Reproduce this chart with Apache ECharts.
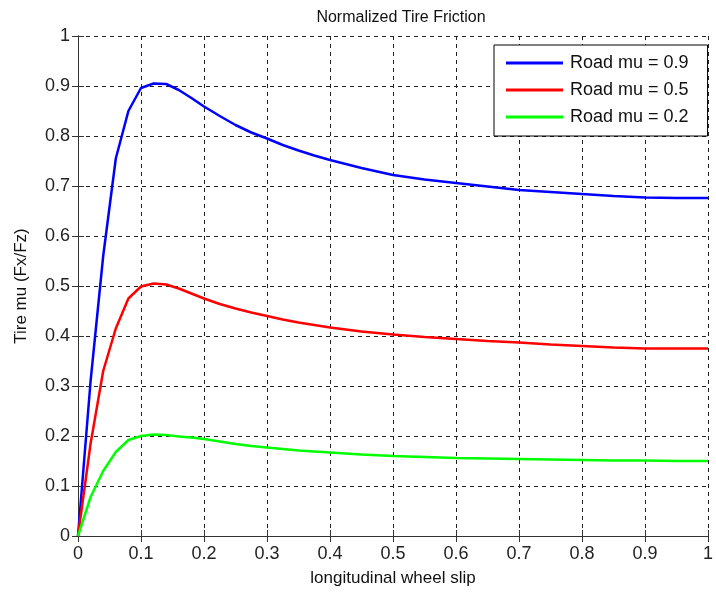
<!DOCTYPE html>
<html>
<head>
<meta charset="utf-8">
<script src="https://cdn.jsdelivr.net/npm/echarts@6/dist/echarts.min.js"></script>
<style>html,body{margin:0;padding:0;background:#fff;}#c{width:716px;height:592px;}</style>
</head>
<body>
<div id="c"></div>
<script>
var slip = [0, 0.02, 0.04, 0.06, 0.08, 0.1, 0.12, 0.14, 0.16, 0.18, 0.2, 0.225, 0.25, 0.275, 0.3, 0.325, 0.35, 0.375, 0.4, 0.45, 0.5, 0.55, 0.6, 0.65, 0.7, 0.75, 0.8, 0.85, 0.9, 0.95, 1.0];
var mu09 = [0, 0.31, 0.56, 0.755, 0.85, 0.896, 0.905, 0.904, 0.892, 0.876, 0.859, 0.84, 0.822, 0.807, 0.795, 0.782, 0.771, 0.761, 0.752, 0.736, 0.722, 0.713, 0.706, 0.699, 0.692, 0.688, 0.684, 0.68, 0.677, 0.676, 0.676];
var mu05 = [0, 0.185, 0.33, 0.415, 0.475, 0.499, 0.505, 0.503, 0.495, 0.485, 0.475, 0.464, 0.455, 0.447, 0.44, 0.433, 0.427, 0.422, 0.417, 0.409, 0.403, 0.398, 0.394, 0.39, 0.387, 0.383, 0.38, 0.377, 0.375, 0.375, 0.375];
var mu02 = [0, 0.078, 0.13, 0.168, 0.192, 0.2, 0.203, 0.202, 0.199, 0.197, 0.194, 0.189, 0.184, 0.18, 0.177, 0.174, 0.171, 0.169, 0.167, 0.163, 0.16, 0.158, 0.156, 0.155, 0.154, 0.153, 0.152, 0.151, 0.151, 0.15, 0.15];
var seriesNames = ['Road mu = 0.9', 'Road mu = 0.5', 'Road mu = 0.2'];
var seriesColors = ['#0000ff', '#ff0000', '#00ff00'];
var titleText = 'Normalized Tire Friction';
var xName = 'longitudinal wheel slip';
var yName = 'Tire mu (Fx/Fz)';

function pairs(xs, ys) { return xs.map(function (x, i) { return [x, ys[i]]; }); }
var FONT = '"Liberation Sans", Arial, sans-serif';
var grid = { color: '#222', type: [4, 4], width: 1 };
var axisLineStyle = { color: '#333', width: 1 };

var chart = echarts.init(document.getElementById('c'), null, { renderer: 'canvas' });
var allData = [mu09, mu05, mu02];
chart.setOption({
  backgroundColor: '#fff',
  animation: false,
  title: { text: titleText, left: 396, top: 5, textAlign: 'center',
    textStyle: { fontFamily: FONT, fontSize: 16, fontWeight: 'normal', color: '#111' } },
  grid: { left: 78, top: 36, right: 2, bottom: 56, containLabel: false },
  legend: {
    left: 494, top: 45, orient: 'vertical',
    backgroundColor: '#fff', borderColor: '#000', borderWidth: 1,
    padding: [9, 19, 10, 12], itemWidth: 57, itemHeight: 3, itemGap: 9,
    icon: 'rect',
    textStyle: { fontFamily: FONT, fontSize: 18, color: '#111', lineHeight: 18, padding: [0, 0, 0, 2] },
    data: seriesNames
  },
  xAxis: [
    { type: 'value', min: 0, max: 1, interval: 0.1, position: 'bottom',
      name: xName, nameLocation: 'middle', nameGap: 34,
      nameTextStyle: { fontFamily: FONT, fontSize: 17, color: '#111' },
      axisLine: { show: true, lineStyle: axisLineStyle },
      axisTick: { show: true, inside: true, length: 6, lineStyle: axisLineStyle },
      axisLabel: { fontFamily: FONT, fontSize: 18, color: '#222', margin: 9 },
      splitLine: { show: true, lineStyle: grid } },
    { type: 'value', min: 0, max: 1, interval: 0.1, position: 'top',
      axisLine: { show: true, lineStyle: axisLineStyle },
      axisTick: { show: true, inside: true, length: 6, lineStyle: axisLineStyle },
      axisLabel: { show: false }, splitLine: { show: false } }
  ],
  yAxis: [
    { type: 'value', min: 0, max: 1, interval: 0.1, position: 'left',
      name: yName, nameLocation: 'middle', nameGap: 48, nameRotate: 90,
      nameTextStyle: { fontFamily: FONT, fontSize: 17, color: '#111' },
      axisLine: { show: true, lineStyle: axisLineStyle },
      axisTick: { show: true, inside: true, length: 6, lineStyle: axisLineStyle },
      axisLabel: { fontFamily: FONT, fontSize: 18, color: '#222', margin: 8 },
      splitLine: { show: true, lineStyle: grid } },
    { type: 'value', min: 0, max: 1, interval: 0.1, position: 'right',
      axisLine: { show: true, lineStyle: axisLineStyle },
      axisTick: { show: true, inside: true, length: 6, lineStyle: axisLineStyle },
      axisLabel: { show: false }, splitLine: { show: false } }
  ],
  series: seriesNames.map(function (n, i) {
    return { name: n, type: 'line', xAxisIndex: 0, yAxisIndex: 0,
      data: pairs(slip, allData[i]), symbol: 'none', smooth: false,
      lineStyle: { color: seriesColors[i], width: 2.5 }, itemStyle: { color: seriesColors[i] } };
  })
});
</script>
</body>
</html>
